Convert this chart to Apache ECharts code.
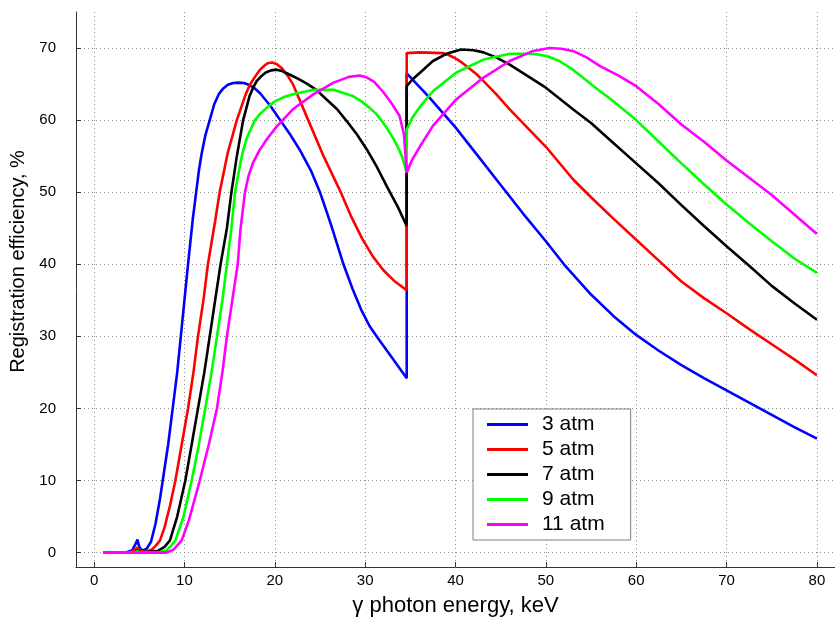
<!DOCTYPE html>
<html>
<head>
<meta charset="utf-8">
<script src="https://cdn.jsdelivr.net/npm/echarts@6/dist/echarts.min.js"></script>
<style>
html, body { margin: 0; padding: 0; background: #fff; }
#chart { width: 835px; height: 622px; }
</style>
</head>
<body>
<div id="chart"></div>
<script>
// energy (keV), registration efficiency (%)
var atm3 = [[1,0],[3.5,0],[4.2,0.3],[4.6,1.2],[4.8,1.8],[5.0,0.8],[5.3,0.3],[5.8,0.5],[6.3,1.5],[6.8,4],[7.3,7.5],[7.6,10],[8.2,15],[8.7,20],[9.2,25],[9.6,30],[10.0,35],[10.4,40],[10.9,46],[11.3,50],[11.6,53],[11.9,55.3],[12.3,57.8],[12.8,60],[13.3,62.2],[13.8,63.6],[14.3,64.4],[14.8,64.9],[15.4,65.15],[16,65.2],[16.6,65.15],[17.1,64.9],[17.7,64.5],[18.4,63.7],[19.5,62],[20.6,60],[21.7,58],[22.8,55.8],[24,53],[25,50],[26.3,45.2],[27.6,40],[28.6,36.6],[29.6,33.6],[30.5,31.4],[31.5,29.6],[33,27],[34.6,24.2],[34.6,66.5],[37,63.3],[40,59],[42.5,55],[45,51],[47.5,47],[50,43.2],[52,40],[55,35.8],[57.5,32.8],[60,30.2],[62.5,28],[65,26],[67.5,24.2],[70,22.5],[72.5,20.8],[75,19.1],[77.5,17.4],[80,15.8]];
var atm5 = [[1,0],[4.0,0],[4.5,0.4],[4.8,0.7],[5.1,0.2],[5.8,0.1],[6.5,0.5],[7.0,1.2],[7.3,1.7],[7.8,3.5],[8.4,6.5],[9.0,10],[9.7,15],[10.4,20],[11.0,25],[11.5,30],[12.1,35],[12.6,40],[13.4,46],[13.9,50],[14.8,55.5],[15.8,60],[16.7,63.3],[17.2,64.8],[17.8,66],[18.3,66.9],[18.8,67.5],[19.2,67.9],[19.7,68],[20.2,67.8],[20.8,67.2],[21.4,66.2],[22,65],[23.7,60],[25.4,55],[27.3,50],[28.5,46.5],[29.7,43.5],[30.9,41],[32,39.2],[33.3,37.6],[34.6,36.4],[34.6,69.3],[36,69.4],[38.6,69.3],[39.3,69],[40.1,68.5],[40.8,67.9],[41.5,67.2],[42.3,66.4],[43.1,65.4],[44.5,63.6],[46,61.5],[48,58.9],[50,56.3],[53,51.8],[55,49.3],[57.5,46.3],[60,43.4],[62.5,40.5],[65,37.6],[67.5,35.3],[70,33.2],[72.5,31],[75,28.9],[77.5,26.8],[80,24.6]];
var atm7 = [[1,0],[4.5,0],[4.8,0.3],[5.2,0],[7,0.2],[7.8,0.8],[8.4,1.7],[9.2,5],[10.1,10],[10.8,15],[11.5,20],[12.2,25],[12.8,30],[13.4,35],[14.0,40],[14.7,45],[15.2,50],[15.8,55],[16.5,60],[17.2,63.3],[17.6,64.5],[18,65.4],[18.5,66.1],[19,66.6],[19.6,66.9],[20.2,67],[20.8,66.8],[21.5,66.4],[22.5,65.8],[23.5,65.1],[24.6,64.2],[25.7,62.9],[26.9,61.5],[28,59.8],[29.1,58],[30.2,55.9],[31.3,53.5],[32.4,50.8],[33.6,48],[34.6,45.3],[34.6,64.7],[35.2,65.6],[36.1,66.6],[37.5,68.2],[39,69.2],[40.6,69.8],[42,69.7],[43.1,69.4],[44.5,68.7],[46,67.7],[48,66.1],[50,64.5],[53,61.5],[55,59.6],[57.5,56.8],[60,54],[62.5,51.2],[65,48.2],[67.5,45.3],[70,42.5],[72.5,39.8],[75,37],[77.5,34.6],[80,32.3]];
var atm9 = [[1,0],[4.5,0],[4.8,0.2],[5.2,0],[7,0],[8,0.3],[8.5,0.9],[9,1.7],[9.9,5],[10.8,10],[11.6,15],[12.3,20],[13,25],[13.6,30],[14.2,35],[14.7,40],[15.2,45],[15.6,50],[16.2,54.1],[16.5,55.8],[16.9,57.5],[17.8,60],[18.4,60.9],[19,61.6],[20,62.6],[21,63.2],[22,63.6],[24.3,64.2],[26.5,64.2],[28.7,63.3],[29.6,62.6],[30.5,61.7],[31.2,60.9],[31.9,59.8],[32.5,58.7],[33.1,57.5],[33.6,56.3],[34.1,54.9],[34.6,52.7],[34.6,58.7],[35.2,60.3],[36.1,61.9],[37.5,64],[40.1,66.6],[43.1,68.4],[46,69.2],[48.6,69.2],[50.1,68.9],[51.5,68.2],[53,67],[56,64],[57.3,62.8],[60,60],[62.5,57],[65,54],[67.5,51.1],[70,48.3],[72.5,45.7],[75,43.2],[77.5,40.8],[80,38.8]];
var atm11 = [[1,0],[8,0],[8.8,0.4],[9.7,1.7],[10.5,4.5],[11.7,10],[12.7,15],[13.6,20],[14.2,25],[14.7,30],[15.3,35],[15.9,40],[16.2,44.8],[16.7,50],[17.1,52.3],[17.6,54.1],[18.3,55.8],[19.1,57.3],[20.2,59.1],[22,61.5],[24.3,63.6],[26.5,65.2],[28.2,66],[29.4,66.2],[30.2,65.9],[31,65.3],[32,63.9],[33,62.2],[33.8,60.6],[34.3,58],[34.6,52.7],[35.2,54.5],[36.1,56.4],[37.5,59.2],[40.1,62.9],[43.1,65.9],[46,68.2],[48.6,69.6],[50.4,70],[51.7,69.9],[53,69.6],[54.5,68.7],[56,67.5],[58,66.2],[60,64.7],[62.5,62.2],[65,59.4],[67.5,57],[70,54.4],[72.5,52],[75,49.6],[77.5,46.9],[80,44.2]];

var seriesNames = ['3 atm', '5 atm', '7 atm', '9 atm', '11 atm'];
var seriesColors = ['#0000ff', '#ff0000', '#000000', '#00ff00', '#ff00ff'];
var seriesData = [atm3, atm5, atm7, atm9, atm11];

var xTicks = [0, 10, 20, 30, 40, 50, 60, 70, 80];
var yTicks = [0, 10, 20, 30, 40, 50, 60, 70];

var myChart = echarts.init(document.getElementById('chart'));

var series = [];
for (var i = 0; i < seriesData.length; i++) {
	series.push({
		name: seriesNames[i],
		type: 'line',
		data: seriesData[i],
		symbol: 'none',
		smooth: false,
		lineStyle: { color: seriesColors[i], width: 2.6 },
		itemStyle: { color: seriesColors[i] }
	});
}

var gridLine = { show: true, lineStyle: { color: '#8c8c8c', width: 1, type: [1, 3] } };

var option = {
	animation: false,
	textStyle: { fontFamily: 'Liberation Sans, Arial, sans-serif' },
	grid: { left: 76, right: 0, top: 12, bottom: 55 },
	xAxis: {
		type: 'value',
		min: -2,
		max: 82,
		name: 'γ photon energy, keV',
		nameLocation: 'middle',
		nameGap: 28,
		nameTextStyle: { fontSize: 22, color: '#000' },
		axisLine: { show: true, onZero: false, lineStyle: { color: '#333', width: 1 } },
		axisTick: { show: true, inside: true, length: 5, customValues: xTicks, lineStyle: { color: '#333' } },
		axisLabel: { customValues: xTicks, fontSize: 15, color: '#000', margin: 6 },
		splitLine: gridLine
	},
	yAxis: {
		type: 'value',
		min: -2,
		max: 75,
		name: 'Registration efficiency, %',
		nameLocation: 'middle',
		nameGap: 45,
		nameTextStyle: { fontSize: 20, color: '#000', padding: [0, 0, 0, 56] },
		axisLine: { show: true, onZero: false, lineStyle: { color: '#333', width: 1 } },
		axisTick: { show: true, inside: true, length: 5, customValues: yTicks, lineStyle: { color: '#333' } },
		axisLabel: { customValues: yTicks, fontSize: 15, color: '#000', margin: 20 },
		splitLine: gridLine
	},
	legend: {
		orient: 'vertical',
		left: 473,
		top: 409,
		padding: [5, 26, 5, 14],
		icon: 'rect',
		itemWidth: 41,
		itemHeight: 3,
		itemGap: 4,
		backgroundColor: '#fff',
		borderColor: '#808080',
		borderWidth: 1,
		borderRadius: 0,
		textStyle: { fontSize: 21, color: '#000', lineHeight: 21, padding: [0, 0, 0, 9] },
		data: seriesNames
	},
	series: series
};
myChart.setOption(option);
</script>
</body>
</html>
